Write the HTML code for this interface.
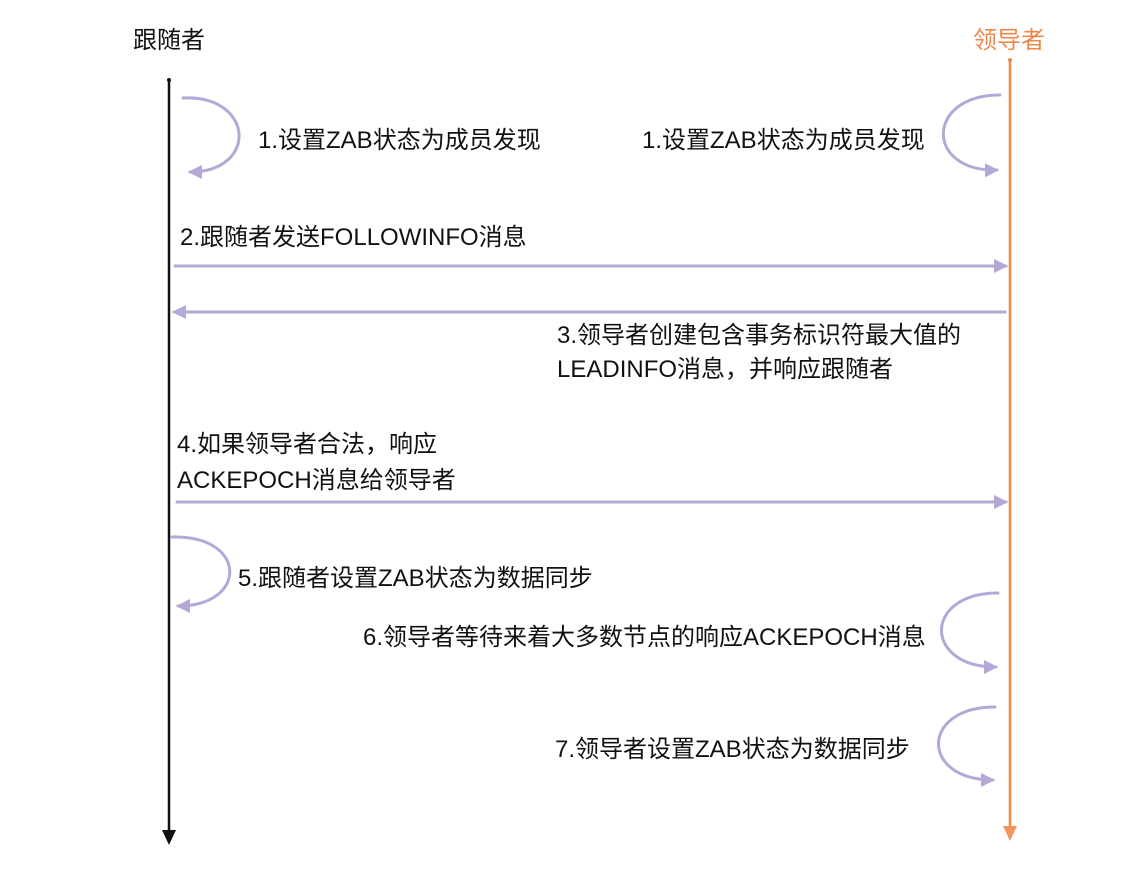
<!DOCTYPE html>
<html><head><meta charset="utf-8"><style>
body{margin:0;background:#fff;}
svg text{font-family:"Liberation Sans","Noto Sans CJK SC",sans-serif;font-size:24px;fill:#111;}
</style></head><body>
<svg width="1142" height="865" viewBox="0 0 1142 865" xmlns="http://www.w3.org/2000/svg">
<defs>
<marker id="p" markerWidth="16" markerHeight="16" refX="12" refY="7" orient="auto" markerUnits="userSpaceOnUse"><path d="M0,0 L14,7 L0,14 Z" fill="#b3a8d8"/></marker>
</defs>
<text x="133" y="48" style="font-size:24px">跟随者</text>
<text x="973" y="48" style="font-size:24px;fill:#f0874a">领导者</text>
<line x1="169" y1="80" x2="169" y2="832" stroke="#111" stroke-width="2.5"/>
<path d="M162,830 L176,830 L169,845 Z" fill="#111"/>
<circle cx="169" cy="80" r="2" fill="#111"/>
<line x1="1010" y1="60" x2="1010" y2="828" stroke="#f0874a" stroke-width="2.5"/>
<path d="M1003,826 L1017,826 L1010,841 Z" fill="#f39560"/>
<circle cx="1010" cy="60" r="2" fill="#f0874a"/>
<g fill="none" stroke="#b3a8d8" stroke-width="3" stroke-linecap="round">
<path d="M183,98 C255,95 258,172 190,172" marker-end="url(#p)"/>
<path d="M1000,95 C925,95 925,172 997,170" marker-end="url(#p)"/>
<path d="M175,266 L1006,266" marker-end="url(#p)"/>
<path d="M1005,312 L174,312" marker-end="url(#p)"/>
<path d="M177,502 L1006,502" marker-end="url(#p)"/>
<path d="M172,537 C248,535 248,606 178,606" marker-end="url(#p)"/>
<path d="M998,593 C923,593 923,667 996,667" marker-end="url(#p)"/>
<path d="M995,707 C920,707 920,780 993,780" marker-end="url(#p)"/>
</g>
<text x="258" y="148">1.设置ZAB状态为成员发现</text>
<text x="642" y="148">1.设置ZAB状态为成员发现</text>
<text x="180" y="245">2.跟随者发送FOLLOWINFO消息</text>
<text x="557" y="343">3.领导者创建包含事务标识符最大值的</text>
<text x="557" y="377">LEADINFO消息，并响应跟随者</text>
<text x="177" y="452">4.如果领导者合法，响应</text>
<text x="177" y="488">ACKEPOCH消息给领导者</text>
<text x="238" y="586">5.跟随者设置ZAB状态为数据同步</text>
<text x="363" y="645">6.领导者等待来着大多数节点的响应ACKEPOCH消息</text>
<text x="555" y="757">7.领导者设置ZAB状态为数据同步</text>
</svg>
</body></html>
